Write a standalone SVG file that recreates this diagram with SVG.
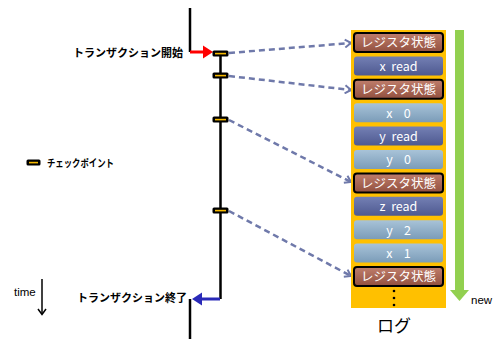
<svg xmlns="http://www.w3.org/2000/svg" width="494" height="339" viewBox="0 0 494 339">
<defs>
<linearGradient id="gReg" x1="0" y1="0" x2="0" y2="1"><stop offset="0" stop-color="#C07E6C"/><stop offset="1" stop-color="#92503F"/></linearGradient>
<linearGradient id="gDark" x1="0" y1="0" x2="0" y2="1"><stop offset="0" stop-color="#7480B4"/><stop offset="1" stop-color="#4E5990"/></linearGradient>
<linearGradient id="gLight" x1="0" y1="0" x2="0" y2="1"><stop offset="0" stop-color="#A8C3D8"/><stop offset="1" stop-color="#7B9CB8"/></linearGradient>
<marker id="mDash" markerWidth="10" markerHeight="10" refX="7" refY="5" orient="auto" markerUnits="userSpaceOnUse"><path d="M1,1 L7,5 L1,9" fill="none" stroke="#6F79AA" stroke-width="2"/></marker>
<style>
.ln{stroke:#000;stroke-width:2.5;fill:none}
.dash{stroke:#6F79AA;stroke-width:2.5;stroke-dasharray:6 4;fill:none;marker-end:url(#mDash)}
.cp{fill:#000;}
.cpi{fill:#F5B800}
.jp{font-family:"Noto Sans CJK JP","Liberation Sans",sans-serif;font-weight:bold;font-size:11px;fill:#000}
.bt{font-family:"Noto Sans CJK JP","Liberation Sans",sans-serif;font-size:12.5px;fill:#fff;text-anchor:middle;white-space:pre}
.reg{fill:url(#gReg);stroke:#000;stroke-width:2}
.dk{fill:url(#gDark)}
.lt{fill:url(#gLight)}
.lat{font-family:"Liberation Sans",sans-serif;font-size:11.5px;fill:#000}
</style>
</defs>
<rect width="494" height="339" fill="#fff"/>

<g id="timeline">
<path class="ln" d="M190,8 V52"/>
<path class="ln" d="M220.5,52 V299"/>
<path class="ln" d="M190,299 V339"/>
</g>

<g id="connectors">
<path d="M190,52 H206" stroke="#FF0000" stroke-width="3" fill="none"/>
<path d="M203,45.5 L213,52 L203,58.5 Z" fill="#FF0000"/>
<path d="M220,299 H200" stroke="#2A2AB8" stroke-width="3" fill="none"/>
<path d="M202,292.5 L192,299 L202,305.5 Z" fill="#2A2AB8"/>
<path class="dash" d="M229,53 L351,43"/>
<path class="dash" d="M229,76 L351,90"/>
<path class="dash" d="M229,120 L351,182"/>
<path class="dash" d="M229,211 L351,276"/>
</g>

<g id="checkpoints">
<rect class="cp" x="212.5" y="50.5" width="16" height="6" rx="1.5"/><rect class="cpi" x="215" y="52.8" width="11" height="1.6"/>
<rect class="cp" x="212.5" y="72.5" width="16" height="6" rx="1.5"/><rect class="cpi" x="215" y="74.8" width="11" height="1.6"/>
<rect class="cp" x="212.5" y="116.5" width="16" height="6" rx="1.5"/><rect class="cpi" x="215" y="118.8" width="11" height="1.6"/>
<rect class="cp" x="212.5" y="207.5" width="16" height="6" rx="1.5"/><rect class="cpi" x="215" y="209.8" width="11" height="1.6"/>
</g>

<g id="labels">
<text class="jp" x="73" y="57" textLength="110" lengthAdjust="spacingAndGlyphs">トランザクション開始</text>
<text class="jp" x="77" y="302" textLength="110" lengthAdjust="spacingAndGlyphs">トランザクション終了</text>
</g>

<g id="legend">
<rect class="cp" x="26.5" y="159.5" width="14" height="6" rx="1.5"/><rect class="cpi" x="29" y="161.8" width="9" height="1.6"/>
<text class="jp" x="47" y="167" style="font-size:10.5px" textLength="67" lengthAdjust="spacingAndGlyphs">チェックポイント</text>
</g>

<g id="time">
<path d="M42,279 V314" stroke="#000" stroke-width="1.5" fill="none"/>
<path d="M38,309 L42,314.5 L46,309" stroke="#000" stroke-width="1.5" fill="none"/>
<text class="lat" x="14" y="296">time</text>
</g>

<g id="log">
<rect x="351" y="30" width="95" height="278" fill="#FFC000"/>
<rect class="reg" x="354" y="33" width="89" height="19" rx="3"/><text class="bt" x="398.5" y="47.3">レジスタ状態</text>
<rect class="dk" x="354" y="56.4" width="89" height="19" rx="3"/><text class="bt" x="398.5" y="70.7">x  read</text>
<rect class="reg" x="354" y="79.8" width="89" height="19" rx="3"/><text class="bt" x="398.5" y="94.1">レジスタ状態</text>
<rect class="lt" x="354" y="103.2" width="89" height="19" rx="3"/><text class="bt" x="398.5" y="117.5">x    0</text>
<rect class="dk" x="354" y="126.6" width="89" height="19" rx="3"/><text class="bt" x="398.5" y="140.9">y  read</text>
<rect class="lt" x="354" y="150" width="89" height="19" rx="3"/><text class="bt" x="398.5" y="164.3">y    0</text>
<rect class="reg" x="354" y="173.4" width="89" height="19" rx="3"/><text class="bt" x="398.5" y="187.7">レジスタ状態</text>
<rect class="dk" x="354" y="196.8" width="89" height="19" rx="3"/><text class="bt" x="398.5" y="211.1">z  read</text>
<rect class="lt" x="354" y="220.2" width="89" height="19" rx="3"/><text class="bt" x="398.5" y="234.5">y    2</text>
<rect class="lt" x="354" y="243.6" width="89" height="19" rx="3"/><text class="bt" x="398.5" y="257.9">x    1</text>
<rect class="reg" x="354" y="267" width="89" height="19" rx="3"/><text class="bt" x="398.5" y="281.3">レジスタ状態</text>
<circle cx="394" cy="291" r="1.3" fill="#000"/>
<circle cx="394" cy="298" r="1.3" fill="#000"/>
<circle cx="394" cy="305" r="1.3" fill="#000"/>
<text x="394" y="332" text-anchor="middle" style="font-family:'Noto Sans CJK JP',sans-serif;font-size:17px;fill:#000">ログ</text>
</g>

<g id="newarrow">
<rect x="455" y="30" width="9" height="261" fill="#92D050"/>
<path d="M450,290 L469,290 L459.5,301 Z" fill="#92D050"/>
<text class="lat" x="471" y="304">new</text>
</g>
</svg>
